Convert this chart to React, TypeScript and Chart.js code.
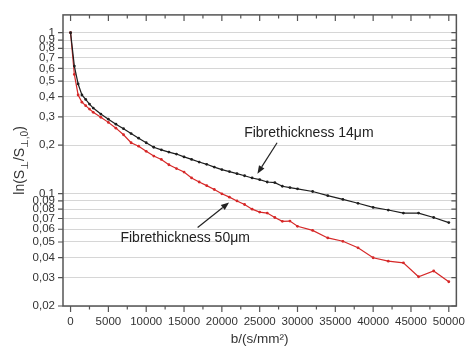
import React, { useEffect, useRef } from 'react';
import { Chart, registerables } from 'chart.js';

Chart.register(...registerables);

// b-values (s/mm²)
const B_VALUES = [
  0, 500, 1000, 1500, 2000, 2500, 3000, 4000, 5000, 6000, 7000, 8000, 9000, 10000,
  11000, 12000, 13000, 14000, 15000, 16000, 17000, 18000, 19000, 20000, 21000, 22000,
  23000, 24000, 25000, 26000, 27000, 28000, 29000, 30000, 32000, 34000, 36000, 38000,
  40000, 42000, 44000, 46000, 48000, 50000,
];

// Fibrethickness 14 µm (black)
const THICK_14 = [
  1.0, 0.62, 0.48, 0.41, 0.385, 0.36, 0.34, 0.312, 0.29, 0.27, 0.253, 0.236, 0.221, 0.207,
  0.194, 0.187, 0.181, 0.176, 0.169, 0.163, 0.157, 0.152, 0.146, 0.141, 0.137, 0.133,
  0.129, 0.125, 0.122, 0.118, 0.117, 0.111, 0.109, 0.107, 0.103, 0.097, 0.092, 0.087,
  0.082, 0.079, 0.0756, 0.0756, 0.071, 0.066,
];

// Fibrethickness 50 µm (red)
const THICK_50 = [
  1.0, 0.55, 0.41, 0.37, 0.352, 0.335, 0.32, 0.298, 0.277, 0.255, 0.232, 0.207, 0.197, 0.183,
  0.171, 0.163, 0.151, 0.143, 0.136, 0.125, 0.118, 0.112, 0.106, 0.0996, 0.095, 0.09,
  0.0855, 0.08, 0.0767, 0.0756, 0.071, 0.0672, 0.0674, 0.0626, 0.059, 0.053, 0.0505, 0.046,
  0.0399, 0.038, 0.0371, 0.0304, 0.033, 0.0283,
];

const X_TICKS = [0, 5000, 10000, 15000, 20000, 25000, 30000, 35000, 40000, 45000, 50000];
const X_MINOR = [2500, 7500, 12500, 17500, 22500, 27500, 32500, 37500, 42500, 47500];
const Y_TICKS = [0.02, 0.03, 0.04, 0.05, 0.06, 0.07, 0.08, 0.09, 0.1, 0.2, 0.3, 0.4, 0.5, 0.6, 0.7, 0.8, 0.9, 1];

const LABEL_14 = 'Fibrethickness 14μm';
const LABEL_50 = 'Fibrethickness 50μm';

// annotation anchors, in data units
const ANNOT_14 = { at: [31500, 0.239], from: [27300, 0.207], to: [24700, 0.133] };
const ANNOT_50 = { at: [15150, 0.0527], from: [16800, 0.0616], to: [20950, 0.0879] };

const FRAME = '#555555';

function drawArrow(ctx: CanvasRenderingContext2D, x1: number, y1: number, x2: number, y2: number) {
  const ang = Math.atan2(y2 - y1, x2 - x1);
  const head = 8;
  const hw = 3.2;
  const bx = x2 - head * Math.cos(ang);
  const by = y2 - head * Math.sin(ang);
  ctx.beginPath();
  ctx.moveTo(x1, y1);
  ctx.lineTo(bx, by);
  ctx.stroke();
  ctx.beginPath();
  ctx.moveTo(x2, y2);
  ctx.lineTo(bx + hw * Math.sin(ang), by - hw * Math.cos(ang));
  ctx.lineTo(bx - hw * Math.sin(ang), by + hw * Math.cos(ang));
  ctx.closePath();
  ctx.fill();
}

const framePlugin = {
  id: 'framePlugin',
  afterDraw(chart: any) {
    const { ctx, chartArea: a, scales } = chart;
    const x = scales.x;
    const y = scales.y;
    ctx.save();
    // frame
    ctx.strokeStyle = FRAME;
    ctx.lineWidth = 1.5;
    ctx.strokeRect(a.left, a.top, a.right - a.left, a.bottom - a.top);
    // ticks
    ctx.lineWidth = 1.2;
    ctx.beginPath();
    X_TICKS.forEach((v) => {
      const px = x.getPixelForValue(v);
      ctx.moveTo(px, a.bottom);
      ctx.lineTo(px, a.bottom + 6);
      ctx.moveTo(px, a.top);
      ctx.lineTo(px, a.top + 6);
    });
    X_MINOR.forEach((v) => {
      const px = x.getPixelForValue(v);
      ctx.moveTo(px, a.bottom);
      ctx.lineTo(px, a.bottom + 3.5);
      ctx.moveTo(px, a.top);
      ctx.lineTo(px, a.top + 3.5);
    });
    Y_TICKS.forEach((v) => {
      const py = y.getPixelForValue(v);
      ctx.moveTo(a.left - 5, py);
      ctx.lineTo(a.left, py);
      ctx.moveTo(a.right, py);
      ctx.lineTo(a.right - 5, py);
    });
    ctx.stroke();

    // annotations
    ctx.fillStyle = '#222';
    ctx.strokeStyle = '#222';
    ctx.lineWidth = 1.2;
    ctx.font = '14px "Liberation Sans", Arial, sans-serif';
    ctx.textAlign = 'center';
    ctx.textBaseline = 'middle';
    ctx.fillText(LABEL_14, x.getPixelForValue(ANNOT_14.at[0]), y.getPixelForValue(ANNOT_14.at[1]));
    ctx.fillText(LABEL_50, x.getPixelForValue(ANNOT_50.at[0]), y.getPixelForValue(ANNOT_50.at[1]));
    drawArrow(ctx,
      x.getPixelForValue(ANNOT_14.from[0]), y.getPixelForValue(ANNOT_14.from[1]),
      x.getPixelForValue(ANNOT_14.to[0]), y.getPixelForValue(ANNOT_14.to[1]));
    drawArrow(ctx,
      x.getPixelForValue(ANNOT_50.from[0]), y.getPixelForValue(ANNOT_50.from[1]),
      x.getPixelForValue(ANNOT_50.to[0]), y.getPixelForValue(ANNOT_50.to[1]));

    // y-axis title with subscripts
    const parts: [string, boolean][] = [['ln(S', false], ['⊥', true], ['/S', false], ['⊥,0', true], [')', false]];
    const mainFont = '14px "Liberation Sans", "DejaVu Sans", sans-serif';
    const subFont = '10px "Liberation Sans", "DejaVu Sans", sans-serif';
    let total = 0;
    const widths = parts.map(([t, sub]) => {
      ctx.font = sub ? subFont : mainFont;
      const w = ctx.measureText(t).width;
      total += w;
      return w;
    });
    ctx.translate(24, (a.top + a.bottom) / 2);
    ctx.rotate(-Math.PI / 2);
    ctx.textAlign = 'left';
    ctx.textBaseline = 'alphabetic';
    ctx.fillStyle = '#333';
    let cx = -total / 2;
    parts.forEach(([t, sub], i) => {
      ctx.font = sub ? subFont : mainFont;
      ctx.fillText(t, cx, sub ? 3.5 : 0);
      cx += widths[i];
    });
    ctx.restore();
  },
};

export default function App() {
  const canvasRef = useRef<HTMLCanvasElement | null>(null);

  useEffect(() => {
    document.body.style.margin = '0';
    const canvas = canvasRef.current;
    if (!canvas) return;
    const chart = new Chart(canvas, {
      type: 'line',
      data: {
        datasets: [
          {
            label: LABEL_14,
            data: B_VALUES.map((b, i) => ({ x: b, y: THICK_14[i] })),
            borderColor: '#1e1e1e',
            backgroundColor: '#1e1e1e',
            borderWidth: 1.2,
            pointRadius: 1.4,
            pointBorderWidth: 0,
            tension: 0,
          },
          {
            label: LABEL_50,
            data: B_VALUES.map((b, i) => ({ x: b, y: THICK_50[i] })),
            borderColor: '#d62828',
            backgroundColor: '#d62828',
            borderWidth: 1.2,
            pointRadius: 1.4,
            pointBorderWidth: 0,
            tension: 0,
          },
        ],
      },
      options: {
        animation: false,
        responsive: false,
        events: [],
        layout: { padding: { top: 13, right: 11, left: 0, bottom: 0 } },
        plugins: { legend: { display: false }, tooltip: { enabled: false } },
        scales: {
          x: {
            type: 'linear',
            min: -1000,
            max: 51000,
            afterBuildTicks: (scale: any) => {
              scale.ticks = X_TICKS.map((v) => ({ value: v }));
            },
            afterFit: (scale: any) => {
              scale.height = 41;
            },
            grid: { display: false, drawTicks: false },
            border: { display: false },
            ticks: {
              maxRotation: 0,
              autoSkip: false,
              padding: 9,
              color: '#333',
              font: { family: '"Liberation Sans", Arial, sans-serif', size: 11.5 },
              callback: (v: any) => String(v),
            },
            title: {
              display: true,
              text: 'b/(s/mm²)',
              color: '#333',
              padding: { top: 0, bottom: 0 },
              font: { family: '"Liberation Sans", Arial, sans-serif', size: 13.5 },
            },
          },
          y: {
            type: 'logarithmic',
            min: 0.02,
            max: 1.29,
            afterBuildTicks: (scale: any) => {
              scale.ticks = Y_TICKS.map((v) => ({ value: v }));
            },
            afterFit: (scale: any) => {
              scale.width = 63;
            },
            grid: { color: '#d6d6d6', lineWidth: 1, drawTicks: false },
            border: { display: false },
            ticks: {
              autoSkip: false,
              padding: 8,
              color: '#333',
              font: { family: '"Liberation Sans Narrow", "Liberation Sans", Arial, sans-serif', size: 11.5 },
              callback: (v: any) => String(v).replace('.', ','),
            },
          },
        },
      },
      plugins: [framePlugin],
    });
    return () => chart.destroy();
  }, []);

  return (
    <div style={{ width: 474, height: 347, background: '#fff' }}>
      <canvas ref={canvasRef} width={474} height={347} style={{ display: 'block' }} />
    </div>
  );
}
